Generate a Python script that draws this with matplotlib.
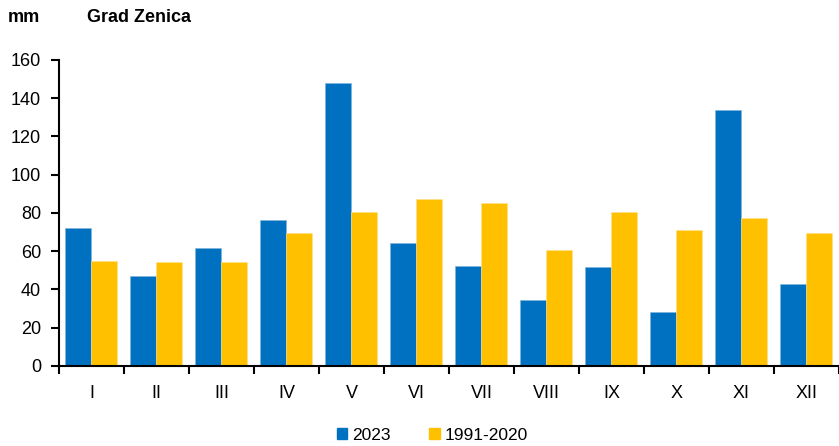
import numpy as np
import matplotlib.pyplot as plt
from matplotlib.patches import Patch

months = ['I', 'II', 'III', 'IV', 'V', 'VI', 'VII', 'VIII', 'IX', 'X', 'XI', 'XII']
y2023 = [72, 47, 61.5, 76.5, 148, 64, 52, 34.5, 51.5, 28, 133.5, 42.8]
norm = [54.7, 54.2, 54.5, 69.3, 80.7, 87, 85, 60.4, 80.3, 70.8, 77.3, 69.6]

plt.rcParams['font.family'] = ['Liberation Sans', 'DejaVu Sans']

blue = '#0070C0'
yellow = '#FFC000'

fig = plt.figure(figsize=(8.39, 4.46), dpi=100)
ax = fig.add_axes([0.0703, 0.1794, 0.9297, 0.6866])

x = np.arange(len(months))
w = 0.4
ax.bar(x - w / 2, y2023, w, color=blue, edgecolor='#7fb3dd', linewidth=0.4)
ax.bar(x + w / 2, norm, w, color=yellow, edgecolor='#ffe08a', linewidth=0.4)

ax.set_xlim(-0.5, len(months) - 0.5)
ax.set_ylim(0, 160)
ax.set_yticks(range(0, 161, 20))
ax.set_xticks(x)
ax.set_xticklabels(months)
ax.set_xticks(np.arange(-0.5, len(months), 1), minor=True)
ax.tick_params(axis='x', which='major', length=0, pad=14, labelsize=13)
ax.tick_params(axis='x', which='minor', length=6, width=1.5, direction='out')
ax.tick_params(axis='y', length=6, width=1.5, labelsize=13, pad=7)

for s in ['top', 'right']:
    ax.spines[s].set_visible(False)
ax.spines['left'].set_linewidth(1.5)
ax.spines['bottom'].set_linewidth(1.5)

fig.text(8 / 839, 1 - 17 / 446, 'mm', fontsize=13, fontweight='bold', va='center')
fig.text(87 / 839, 1 - 17 / 446, 'Grad Zenica', fontsize=13, fontweight='bold', va='center')

handles = [Patch(color=blue, label='2023'), Patch(color=yellow, label='1991-2020')]
fig.legend(handles=handles, loc='center', bbox_to_anchor=(0.5 + 13 / 839, 1 - 435 / 446), ncol=2,
           frameon=False, fontsize=12.5, handlelength=0.6, handleheight=0.6,
           handletextpad=0.3, columnspacing=2.2)

fig.savefig('out.png', dpi=100)
